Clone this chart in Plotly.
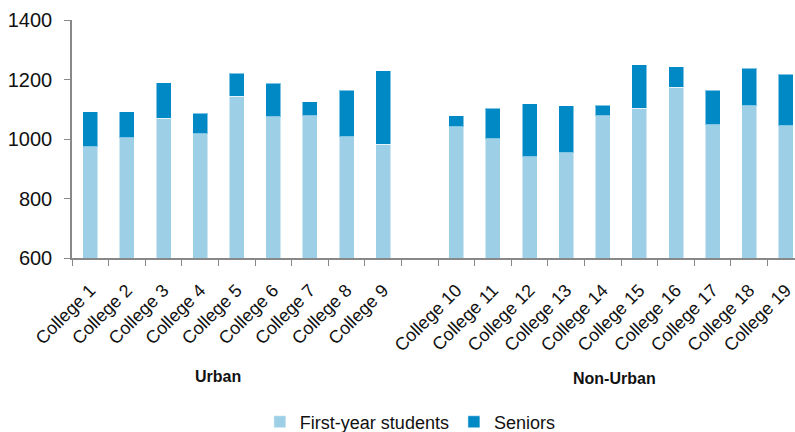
import plotly.graph_objects as go

categories = ["College 1", "College 2", "College 3", "College 4", "College 5",
              "College 6", "College 7", "College 8", "College 9", " ",
              "College 10", "College 11", "College 12", "College 13", "College 14",
              "College 15", "College 16", "College 17", "College 18", "College 19"]

first_year = [974, 1005, 1070, 1018, 1143, 1074, 1079, 1008, 983, None,
              1041, 1001, 940, 953, 1078, 1104, 1174, 1048, 1112, 1044]
totals = [1092, 1091, 1189, 1087, 1221, 1188, 1125, 1164, 1229, None,
          1079, 1104, 1119, 1111, 1114, 1250, 1243, 1164, 1237, 1218]
seniors = [None if t is None else t - f for t, f in zip(totals, first_year)]

group_labels = ["Urban", "Non-Urban"]
y_ticks = [600, 800, 1000, 1200, 1400]

FONT = "Liberation Sans, Arial, sans-serif"
C_FIRST = "#9DCFE7"
C_SEN = "#0189C6"

fig = go.Figure()
fig.add_trace(go.Bar(x=categories, y=first_year, name="First-year students",
                     marker=dict(color=C_FIRST, line=dict(color="rgba(255,255,255,0.5)", width=1)),
                     width=0.41))
fig.add_trace(go.Bar(x=categories, y=seniors, name="Seniors",
                     marker=dict(color=C_SEN, line=dict(color="rgba(255,255,255,0.5)", width=1)),
                     width=0.41))

fig.update_layout(
    barmode="stack",
    width=795, height=432,
    margin=dict(l=72, r=0, t=20, b=174),
    plot_bgcolor="white", paper_bgcolor="white",
    font=dict(family=FONT, size=18, color="#111111"),
    showlegend=True,
    legend=dict(orientation="h", x=0.468, xanchor="center",
                yref="container", y=0.023, yanchor="middle",
                font=dict(size=18), itemwidth=30, traceorder="normal"),
    xaxis=dict(type="category", categoryorder="array", categoryarray=categories,
               range=[-0.5, 19.25], tickangle=-45, tickson="boundaries",
               ticks="outside", ticklen=6, tickcolor="#888888",
               showline=True, linecolor="#888888", linewidth=1.5,
               showgrid=False, tickfont=dict(size=18), ticklabelstandoff=13,
               automargin=False),
    yaxis=dict(range=[600, 1400], tickvals=y_ticks, ticks="outside", ticklen=6,
               tickcolor="#888888", showline=True, linecolor="#888888", linewidth=1.5,
               showgrid=False, zeroline=False, tickfont=dict(size=20),
               ticklabelstandoff=8, automargin=False),
    annotations=[
        dict(text="<b>" + group_labels[0] + "</b>", xref="paper", yref="paper",
             x=0.202, y=-0.496, xanchor="center", yanchor="middle",
             showarrow=False, font=dict(size=16)),
        dict(text="<b>" + group_labels[1] + "</b>", xref="paper", yref="paper",
             x=0.751, y=-0.508, xanchor="center", yanchor="middle",
             showarrow=False, font=dict(size=16)),
    ],
)

fig.write_html("out.html", config={"displayModeBar": False},
               post_script="document.body.style.margin='0';document.body.style.overflow='hidden';")
